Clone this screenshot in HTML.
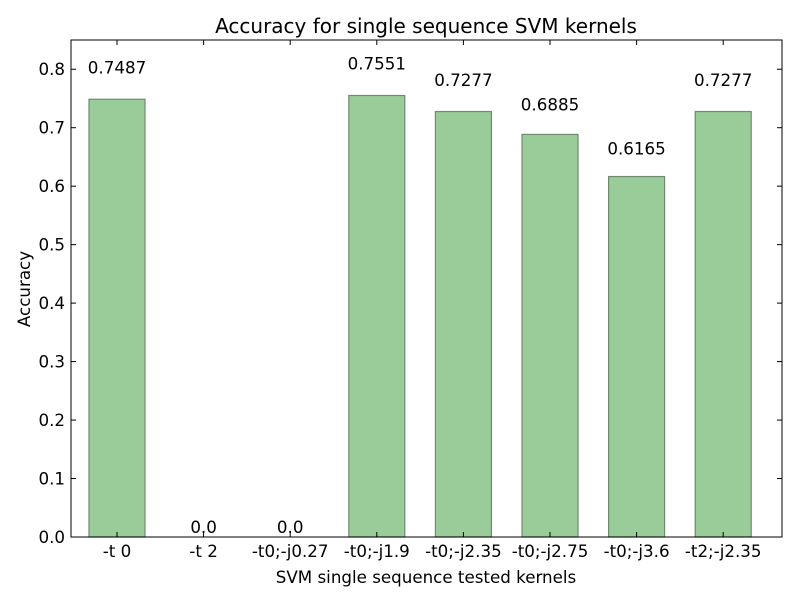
<!DOCTYPE html>
<html><head><meta charset="utf-8">
<style>
body{margin:0;background:#fff;}
svg{display:block;font-family:"DejaVu Sans","Liberation Sans",sans-serif;}
</style></head>
<body>
<svg id="chart" width="800" height="600">
<rect width="800" height="600" fill="#fff"/>
<text x="426" y="33" font-size="20" text-anchor="middle">Accuracy for single sequence SVM kernels</text>
<text x="426" y="583" font-size="16.7" text-anchor="middle">SVM single sequence tested kernels</text>
<text transform="translate(30,289) rotate(-90)" font-size="16.7" text-anchor="middle">Accuracy</text>
<g id="bars"></g>
<g id="yticks"></g>
<g id="xticks"></g>
<rect x="71" y="40" width="711" height="497" fill="none" stroke="#000" stroke-width="1"/>
</svg>
<script>
const categories = ["-t 0","-t 2","-t0;-j0.27","-t0;-j1.9","-t0;-j2.35","-t0;-j2.75","-t0;-j3.6","-t2;-j2.35"];
const values = [0.7487,0.0,0.0,0.7551,0.7277,0.6885,0.6165,0.7277];
const valueLabels = ["0.7487","0.0","0.0","0.7551","0.7277","0.6885","0.6165","0.7277"];
const yTicks = [0,0.1,0.2,0.3,0.4,0.5,0.6,0.7,0.8];
const yTickLabels = ["0.0","0.1","0.2","0.3","0.4","0.5","0.6","0.7","0.8"];

const NS="http://www.w3.org/2000/svg";
const plotTop=40, plotBottom=537, plotLeft=71, plotRight=782, yMax=0.85;
function yScale(v){return plotBottom-(v/yMax)*(plotBottom-plotTop);}
function xCenter(i){return 117+86.6*i;}
const barW=56;
function mk(tag,attrs,parent){const e=document.createElementNS(NS,tag);for(const k in attrs)e.setAttribute(k,attrs[k]);parent.appendChild(e);return e;}
const bars=document.getElementById('bars'), yt=document.getElementById('yticks'), xt=document.getElementById('xticks');
values.forEach((v,i)=>{
  const y=yScale(v);
  const r=mk('rect',{x:xCenter(i)-barW/2,y:y,width:barW,height:plotBottom-y,fill:'#99cc99',stroke:'#6f8a6f','stroke-width':1.2},bars);
  
  
  const t=mk('text',{x:xCenter(i),y:yScale(v*1.05)-4,'font-size':16.7,'text-anchor':'middle'},bars);
  t.textContent=valueLabels[i];
  
  
  mk('line',{x1:xCenter(i),x2:xCenter(i),y1:plotBottom,y2:plotBottom-5,stroke:'#000'},xt);
  mk('line',{x1:xCenter(i),x2:xCenter(i),y1:plotTop,y2:plotTop+5,stroke:'#000'},xt);
  const xl=mk('text',{x:xCenter(i),y:plotBottom+20,'font-size':16.7,'text-anchor':'middle'},xt);
  xl.textContent=categories[i];
  
  
});
yTicks.forEach((v,i)=>{
  const y=yScale(v);
  mk('line',{x1:plotLeft,x2:plotLeft+5,y1:y,y2:y,stroke:'#000'},yt);
  mk('line',{x1:plotRight,x2:plotRight-5,y1:y,y2:y,stroke:'#000'},yt);
  const t=mk('text',{x:plotLeft-6,y:y+6,'font-size':16.7,'text-anchor':'end'},yt);
  t.textContent=yTickLabels[i];
  
  
});
</script>
</body></html>
